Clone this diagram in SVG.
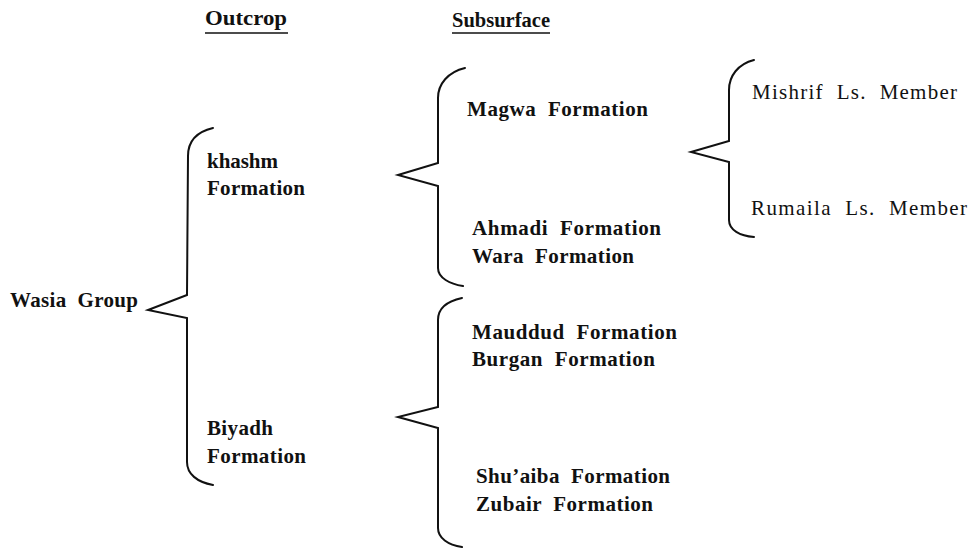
<svg xmlns="http://www.w3.org/2000/svg" width="980" height="549" viewBox="0 0 980 549">
<style>
text{font-family:"Liberation Serif","Times New Roman",serif;font-size:21px;font-weight:bold;fill:#111;white-space:pre}
.light{font-weight:normal}
.hdr{font-size:21px}
.brace{fill:none;stroke:#111;stroke-width:2;stroke-linejoin:miter;stroke-linecap:round}
.ul{stroke:#111;stroke-width:1.6}
</style>
<rect width="980" height="549" fill="#fff"/>
<g id="headers">
<g id="outcrop-header"><text class="hdr" x="205" y="25" textLength="82" lengthAdjust="spacingAndGlyphs">Outcrop</text><line class="ul" x1="205" y1="33" x2="288" y2="33"/></g>
<g id="subsurface-header"><text class="hdr" x="452" y="27" textLength="98" lengthAdjust="spacingAndGlyphs">Subsurface</text><line class="ul" x1="452" y1="33" x2="550" y2="33"/></g>
</g>
<g id="wasia"><text xml:space="preserve" x="10" y="307" textLength="128" lengthAdjust="spacing">Wasia  Group</text></g>
<g id="khashm"><text x="207" y="168" textLength="71" lengthAdjust="spacing">khashm</text><text x="207" y="195" textLength="98" lengthAdjust="spacing">Formation</text></g>
<g id="biyadh"><text x="207" y="435" textLength="66" lengthAdjust="spacing">Biyadh</text><text x="207" y="463" textLength="99" lengthAdjust="spacing">Formation</text></g>
<g id="magwa"><text xml:space="preserve" x="467" y="116" textLength="181" lengthAdjust="spacing">Magwa  Formation</text></g>
<g id="ahmadi-wara"><text xml:space="preserve" x="472" y="235" textLength="189" lengthAdjust="spacing">Ahmadi  Formation</text><text xml:space="preserve" x="472" y="263" textLength="162" lengthAdjust="spacing">Wara  Formation</text></g>
<g id="mishrif"><text xml:space="preserve" class="light" x="752" y="99" textLength="205" lengthAdjust="spacing">Mishrif  Ls.  Member</text></g>
<g id="rumaila"><text xml:space="preserve" class="light" x="751" y="215" textLength="216" lengthAdjust="spacing">Rumaila  Ls.  Member</text></g>
<g id="mauddud-burgan"><text xml:space="preserve" x="472" y="339" textLength="205" lengthAdjust="spacing">Mauddud  Formation</text><text xml:space="preserve" x="472" y="366" textLength="183" lengthAdjust="spacing">Burgan  Formation</text></g>
<g id="shuaiba-zubair"><text xml:space="preserve" x="476" y="483" textLength="194" lengthAdjust="spacing">Shu’aiba  Formation</text><text xml:space="preserve" x="476" y="511" textLength="177" lengthAdjust="spacing">Zubair  Formation</text></g>
<g id="connectors">
<path class="brace" d="M213,128 C196,132 188,142 188,156 L187,295 L148,310 L187,318 L187,462 C187,474 197,482 213,485"/>
<path class="brace" d="M465,68 C448,72 438,84 438,98 L438,163 L398,175 L438,186 L438,268 C438,278 450,284 463,286"/>
<path class="brace" d="M462,298 C448,301 438,308 438,320 L438,407 L398,417 L438,428 L438,528 C438,538 448,545 462,547"/>
<path class="brace" d="M754,60 C738,64 729,76 729,90 L729,141 L691,152 L729,162 L729,220 C729,230 740,236 754,237"/>
</g>
</svg>
